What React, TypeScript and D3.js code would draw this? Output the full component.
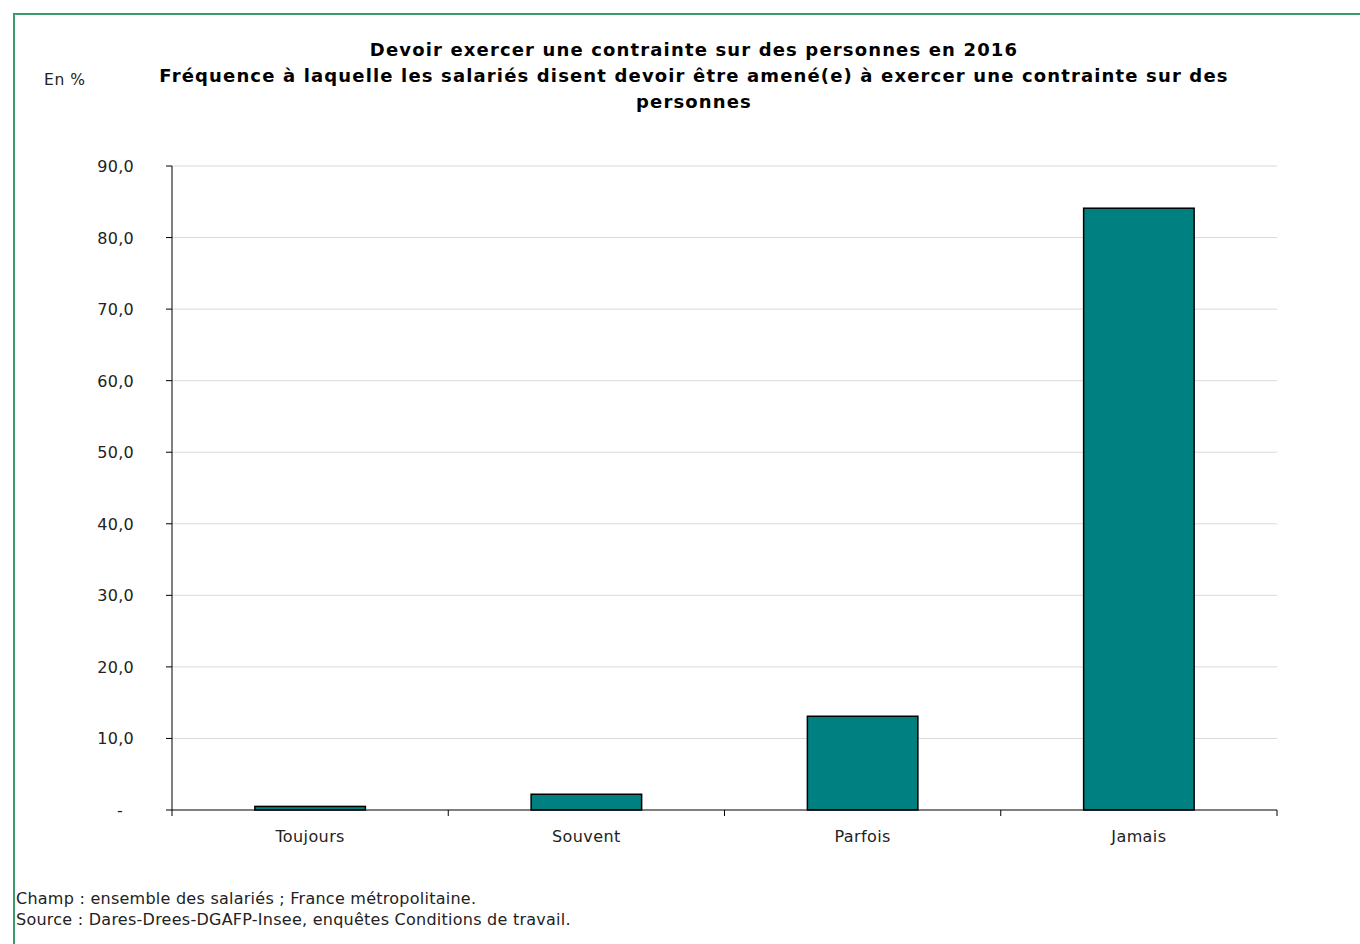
import React from "react";
import * as d3 from "d3";

const categories = ["Toujours", "Souvent", "Parfois", "Jamais"];
const values = [0.5, 2.2, 13.1, 84.1];
const yTicks = [0, 10, 20, 30, 40, 50, 60, 70, 80, 90];
const titleLines = [
  "Devoir exercer une contrainte sur des personnes en 2016",
  "Fréquence à laquelle les salariés disent devoir être amené(e) à exercer une contrainte sur des",
  "personnes",
];
const notes = [
  "Champ : ensemble des salariés ; France métropolitaine.",
  "Source : Dares-Drees-DGAFP-Insee, enquêtes Conditions de travail.",
];

export default function App() {
  const W = 1360, H = 944;
  const left = 172, right = 1277, top = 166, bottom = 810;
  const x = d3.scaleBand<string>().domain(categories).range([left, right]).paddingInner(0).paddingOuter(0);
  const y = d3.scaleLinear().domain([0, 90]).range([bottom, top]);
  const bw = x.bandwidth() * 0.4;
  const font = "'DejaVu Sans', Verdana, sans-serif";
  const fmt = (v: number) => (v === 0 ? "-" : v.toFixed(1).replace(".", ","));
  return (
    <svg width={W} height={H} style={{ position: "absolute", left: 0, top: 0 }} fontFamily={font}>
      <rect x={0} y={0} width={W} height={H} fill="#fff" />
      <path d={`M14,${H + 5} V14 H${W + 5}`} fill="none" stroke="#3a9a6a" strokeWidth={2} />
      {titleLines.map((t, i) => (
        <text key={i} x={694} y={56 + i * 26} textAnchor="middle" fontWeight="bold" fontSize={18} letterSpacing={1.15} fill="#000">
          {t}
        </text>
      ))}
      <text x={44} y={85} fontSize={15.5} letterSpacing={0.6} fill="#222">En %</text>
      {yTicks.map((t) => (
        <g key={t}>
          {t > 0 && <line x1={left} x2={right} y1={y(t)} y2={y(t)} stroke="#d9d9d9" strokeWidth={1} />}
          <line x1={left - 6} x2={left} y1={y(t)} y2={y(t)} stroke="#000" />
          <text x={t === 0 ? 120 : 134} y={y(t) + 6} textAnchor={t === 0 ? "middle" : "end"} fontSize={16} letterSpacing={0.3} fill="#222">
            {fmt(t)}
          </text>
        </g>
      ))}
      <line x1={left} x2={left} y1={top} y2={bottom} stroke="#000" />
      {categories.map((c, i) => (
        <rect
          key={c}
          x={(x(c) as number) + (x.bandwidth() - bw) / 2}
          y={y(values[i])}
          width={bw}
          height={bottom - y(values[i])}
          fill="#008080"
          stroke="#000"
          strokeWidth={1.5}
        />
      ))}
      <line x1={left} x2={right} y1={bottom} y2={bottom} stroke="#000" />
      {d3.range(categories.length + 1).map((i) => {
        const xx = left + i * x.bandwidth();
        return <line key={i} x1={xx} x2={xx} y1={bottom} y2={bottom + 6} stroke="#000" />;
      })}
      {categories.map((c) => (
        <text key={c} x={(x(c) as number) + x.bandwidth() / 2} y={842} textAnchor="middle" fontSize={16} letterSpacing={0.4} fill="#222">
          {c}
        </text>
      ))}
      {notes.map((n, i) => (
        <text key={i} x={16} y={904 + i * 21} fontSize={16} letterSpacing={0.25} fill="#222">{n}</text>
      ))}
    </svg>
  );
}
